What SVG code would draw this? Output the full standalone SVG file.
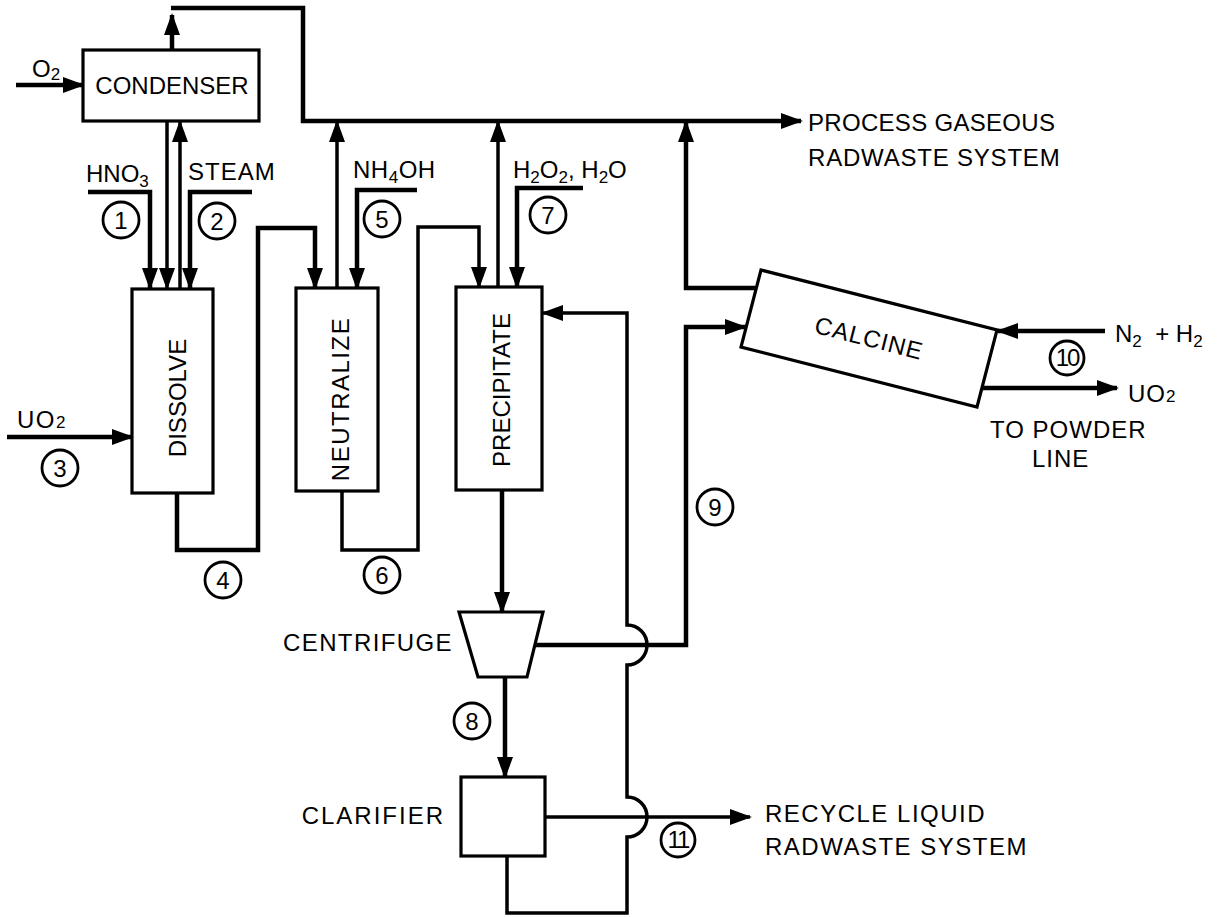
<svg xmlns="http://www.w3.org/2000/svg" width="1218" height="917" viewBox="0 0 1218 917">
<style>
.box{fill:#fff;stroke:#000;stroke-width:3.2;stroke-linejoin:miter}
.ln{fill:none;stroke:#000;stroke-width:4.5;stroke-linejoin:miter}
.th{stroke-width:3.5}
.t{font-family:"Liberation Sans",Arial,sans-serif;font-size:24px;fill:#000}
.c{font-family:"Liberation Sans",Arial,sans-serif;font-size:24px;fill:#000}
.n{font-family:"Liberation Sans",Arial,sans-serif;font-size:24px;fill:#000;text-anchor:middle}
.ring{fill:none;stroke:#000;stroke-width:2.8}
.s{font-size:17px}
</style>
<defs>
<marker id="ah" viewBox="0 0 22 16" refX="20" refY="8" markerWidth="22" markerHeight="16" markerUnits="userSpaceOnUse" orient="auto">
<path d="M0,0 L22,8 L0,16 z" fill="#000"/>
</marker>
</defs>

<g id="connectors">
<path class="ln" d="M16,85 H83" marker-end="url(#ah)"/>
<path class="ln" d="M172,50 V15" marker-end="url(#ah)"/>
<path class="ln" d="M171,8 H303 V121 H801" marker-end="url(#ah)"/>
<path class="ln" d="M88,192 H150 V288" marker-end="url(#ah)"/>
<path class="ln th" d="M167,121 V288" marker-end="url(#ah)"/>
<path class="ln th" d="M180,289 V122" marker-end="url(#ah)"/>
<path class="ln" d="M252,192 H190 V288" marker-end="url(#ah)"/>
<path class="ln" d="M7,437 H132" marker-end="url(#ah)"/>
<path class="ln" d="M177,493 V550 H258 V228 H315 V288" marker-end="url(#ah)"/>
<path class="ln th" d="M337,288 V122" marker-end="url(#ah)"/>
<path class="ln" d="M417,190 H357 V288" marker-end="url(#ah)"/>
<path class="ln th" d="M342,491 V550 H418 V227 H479 V287" marker-end="url(#ah)"/>
<path class="ln th" d="M498,287 V122" marker-end="url(#ah)"/>
<path class="ln" d="M583,188 H517 V287" marker-end="url(#ah)"/>
<path class="ln" d="M502,490 V612" marker-end="url(#ah)"/>
<path class="ln" d="M535,645 H686 V327 H745" marker-end="url(#ah)"/>
<path class="ln" d="M757,288 H686 V122" marker-end="url(#ah)"/>
<path class="ln" d="M1105,331 H998" marker-end="url(#ah)"/>
<path class="ln" d="M982,388 H1117" marker-end="url(#ah)"/>
<path class="ln" d="M505,677 V777" marker-end="url(#ah)"/>
<path class="ln th" d="M545,817 H750" marker-end="url(#ah)"/>
<path class="ln th" d="M507,856 V913 H627 V837 A20,20 0 0 0 627,797 V665 A20,20 0 0 0 627,625 V313 H543" marker-end="url(#ah)"/>
</g>

<g id="condenser">
<rect class="box" x="83" y="50" width="176" height="71"/>
<text class="t" x="172" y="94" text-anchor="middle">CONDENSER</text>
</g>
<g id="dissolve">
<rect class="box" x="132" y="289" width="81" height="204"/>
<text class="t" transform="translate(186,398) rotate(-90)" text-anchor="middle">DISSOLVE</text>
</g>
<g id="neutralize">
<rect class="box" x="296" y="288" width="82" height="203"/>
<text class="t" transform="translate(349,399) rotate(-90)" text-anchor="middle" letter-spacing="1.5">NEUTRALIZE</text>
</g>
<g id="precipitate">
<rect class="box" x="456" y="287" width="86" height="203"/>
<text class="t" transform="translate(510,390) rotate(-90)" text-anchor="middle">PRECIPITATE</text>
</g>
<g id="calcine">
<polygon class="box" points="761,270 997,330 977,407 741,347"/>
<text class="t" transform="translate(869,338.5) rotate(14.3)" text-anchor="middle" dy="8" letter-spacing="1">CALCINE</text>
</g>
<g id="centrifuge">
<polygon class="box" points="459,612 543,612 527,677 478,677"/>
<text class="t" x="453" y="651" text-anchor="end" letter-spacing="1.4">CENTRIFUGE</text>
</g>
<g id="clarifier">
<rect class="box" x="461" y="777" width="84" height="79"/>
<text class="t" x="445" y="824" text-anchor="end" letter-spacing="2">CLARIFIER</text>
</g>

<g id="labels">
<text class="c" x="32" y="77">O<tspan class="s" dy="3">2</tspan></text>
<text class="c" x="86" y="182">HNO<tspan class="s" dy="5">3</tspan></text>
<text class="t" x="188" y="180" letter-spacing="1">STEAM</text>
<text class="c" x="17" y="428" letter-spacing="1.5">UO<tspan class="s">2</tspan></text>
<text class="c" x="353" y="178" letter-spacing="0.5">NH<tspan class="s" dy="5">4</tspan><tspan dy="-5">OH</tspan></text>
<text class="c" x="513" y="178">H<tspan class="s" dy="5">2</tspan><tspan dy="-5">O</tspan><tspan class="s" dy="5">2</tspan><tspan dy="-5">, H</tspan><tspan class="s" dy="5">2</tspan><tspan dy="-5">O</tspan></text>
<text class="t" x="808" y="131" letter-spacing="0.3">PROCESS GASEOUS</text>
<text class="t" x="808" y="166" letter-spacing="0.8">RADWASTE SYSTEM</text>
<text class="c" x="1115" y="342">N<tspan class="s" dy="5">2</tspan><tspan dy="-5" xml:space="preserve">  + H</tspan><tspan class="s" dy="5">2</tspan></text>
<text class="c" x="1128" y="402" letter-spacing="1">UO<tspan class="s">2</tspan></text>
<text class="t" x="990" y="438" letter-spacing="1">TO POWDER</text>
<text class="t" x="1032" y="467" letter-spacing="1">LINE</text>
<text class="t" x="765" y="822" letter-spacing="1.5">RECYCLE LIQUID</text>
<text class="t" x="765" y="855" letter-spacing="1.5">RADWASTE SYSTEM</text>
</g>

<g id="stream-numbers">
<circle class="ring" cx="121" cy="220" r="18"/><text class="n" x="121" y="229">1</text>
<circle class="ring" cx="217" cy="221" r="18"/><text class="n" x="217" y="230">2</text>
<circle class="ring" cx="60" cy="468" r="18"/><text class="n" x="60" y="477">3</text>
<circle class="ring" cx="223" cy="580" r="18"/><text class="n" x="223" y="589">4</text>
<circle class="ring" cx="382" cy="219" r="18"/><text class="n" x="382" y="228">5</text>
<circle class="ring" cx="382" cy="575" r="18"/><text class="n" x="382" y="584">6</text>
<circle class="ring" cx="548" cy="215" r="18"/><text class="n" x="548" y="224">7</text>
<circle class="ring" cx="472" cy="721" r="18"/><text class="n" x="472" y="730">8</text>
<circle class="ring" cx="715" cy="507" r="18"/><text class="n" x="715" y="516">9</text>
<circle class="ring" cx="1067" cy="358" r="17"/><text class="n" x="1067" y="366" font-size="21" letter-spacing="-2">10</text>
<circle class="ring" cx="678" cy="840" r="17"/><text class="n" x="678" y="848" font-size="21" letter-spacing="-2">11</text>
</g>
</svg>
